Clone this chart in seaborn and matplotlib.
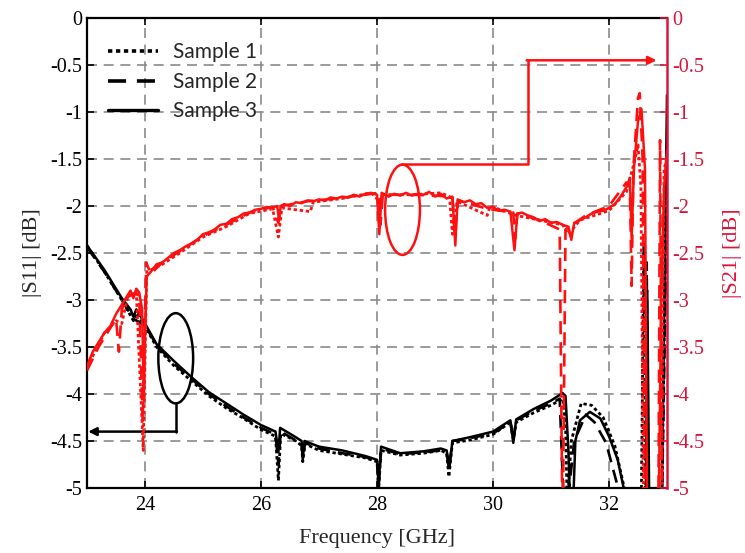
import matplotlib
matplotlib.use("Agg")
import matplotlib.pyplot as plt
import seaborn as sns
import pandas as pd
from matplotlib.patches import Ellipse
from matplotlib.lines import Line2D

# ---------------- data ----------------
# |S11| sample 3 (solid)
s11_3_f = [23.0, 23.3, 23.6, 23.75, 23.8, 23.85, 24.0, 24.2, 24.5, 24.8, 25.1, 25.4, 25.7, 26.0, 26.25,
           26.3, 26.33, 26.6, 26.7, 26.72, 26.75, 27.0, 27.4, 27.8, 28.0, 28.03, 28.07, 28.4, 28.8, 29.1,
           29.2, 29.25, 29.3, 29.6, 30.0, 30.3, 30.35, 30.4, 30.7, 31.0, 31.2, 31.25, 31.3, 31.33, 31.38,
           31.42, 31.5, 31.67, 31.85, 32.0, 32.15, 32.27, 32.6, 32.63, 32.66, 32.7, 32.9, 33.0]
s11_3_v = [-2.42, -2.68, -2.98, -3.10, -3.18, -3.10, -3.25, -3.47, -3.65, -3.82, -3.98, -4.10, -4.22, -4.33, -4.40,
           -4.62, -4.36, -4.46, -4.50, -4.70, -4.50, -4.56, -4.60, -4.66, -4.70, -4.95, -4.56, -4.63, -4.61, -4.58,
           -4.60, -4.78, -4.50, -4.46, -4.40, -4.28, -4.52, -4.27, -4.16, -4.07, -3.99, -4.02, -4.60, -5.20, -5.20,
           -4.50, -4.28, -4.19, -4.26, -4.45, -4.70, -5.05, -5.60, -5.60, -2.90, -5.60, -5.60, -0.82]

# |S11| sample 1 (dotted)
s11_1_f = [23.0, 23.3, 23.6, 23.8, 23.85, 24.0, 24.2, 24.5, 24.8, 25.1, 25.4, 25.7, 26.0, 26.25, 26.3,
           26.34, 26.6, 26.7, 26.72, 26.76, 27.0, 27.4, 27.8, 28.0, 28.03, 28.07, 28.4, 28.8, 29.1, 29.2,
           29.24, 29.3, 29.6, 30.0, 30.3, 30.35, 30.4, 30.7, 31.0, 31.2, 31.25, 31.28, 31.35, 31.52, 31.7,
           31.9, 32.1, 32.3, 32.55, 32.6, 32.64, 32.9, 33.0]
s11_1_v = [-2.42, -2.70, -3.00, -3.22, -3.14, -3.28, -3.50, -3.70, -3.86, -4.02, -4.15, -4.26, -4.38, -4.45, -4.92,
           -4.42, -4.50, -4.55, -4.72, -4.53, -4.60, -4.64, -4.68, -4.72, -5.00, -4.60, -4.65, -4.63, -4.60, -4.63,
           -4.88, -4.52, -4.49, -4.43, -4.30, -4.48, -4.30, -4.20, -4.12, -4.05, -4.30, -5.20, -4.50, -4.10, -4.12,
           -4.25, -4.55, -5.10, -5.60, -2.40, -5.60, -5.60, -1.50]

# |S11| sample 2 (dashed)
s11_2_f = [23.0, 23.3, 23.6, 23.8, 24.0, 24.2, 24.5, 24.8, 25.1, 25.4, 25.7, 26.0, 26.25, 26.3, 26.34,
           26.7, 26.72, 26.76, 27.0, 27.4, 27.8, 28.0, 28.03, 28.07, 28.4, 28.8, 29.1, 29.2, 29.24, 29.3,
           29.6, 30.0, 30.3, 30.35, 30.4, 30.7, 31.0, 31.15, 31.22, 31.28, 31.4, 31.6, 31.75, 31.95, 32.2,
           32.62, 32.65, 32.68, 32.9, 33.0]
s11_2_v = [-2.44, -2.70, -3.00, -3.20, -3.27, -3.48, -3.68, -3.84, -4.00, -4.13, -4.25, -4.36, -4.43, -4.75, -4.40,
           -4.53, -4.68, -4.52, -4.58, -4.63, -4.67, -4.72, -4.97, -4.58, -4.64, -4.62, -4.60, -4.62, -4.80, -4.50,
           -4.47, -4.42, -4.30, -4.50, -4.28, -4.18, -4.10, -4.05, -5.20, -5.20, -4.50, -4.22, -4.30, -4.52, -5.10,
           -5.60, -2.60, -5.60, -5.60, -2.00]

# |S21| sample 3 (solid)
s21_3_f = [23.0, 23.1, 23.2, 23.3, 23.4, 23.5, 23.6, 23.7, 23.75, 23.8, 23.85, 23.9, 23.95, 23.98, 24.0,
           24.03, 24.1, 24.2, 24.3, 24.4, 24.5, 24.6, 24.7, 24.8, 24.9, 25.0, 25.1, 25.2, 25.3, 25.4,
           25.5, 25.6, 25.7, 25.8, 25.9, 26.0, 26.1, 26.2, 26.28, 26.31, 26.34, 26.4, 26.5, 26.6, 26.7,
           26.8, 26.9, 27.0, 27.1, 27.2, 27.3, 27.4, 27.5, 27.6, 27.7, 27.8, 27.9, 28.0, 28.04, 28.08,
           28.2, 28.3, 28.4, 28.5, 28.6, 28.7, 28.8, 28.9, 29.0, 29.1, 29.2, 29.3, 29.35, 29.39, 29.5,
           29.6, 29.7, 29.8, 29.9, 30.0, 30.1, 30.2, 30.3, 30.37, 30.42, 30.5, 30.6, 30.7, 30.8, 30.9,
           31.0, 31.1, 31.2, 31.3, 31.35, 31.4, 31.5, 31.6, 31.7, 31.8, 31.9, 32.0, 32.1, 32.2, 32.3,
           32.36, 32.39, 32.43, 32.5, 32.56, 32.62, 32.66, 32.85, 32.9, 32.95, 33.0]
s21_3_v = [-3.70, -3.55, -3.45, -3.35, -3.28, -3.15, -3.05, -2.95, -2.90, -2.98, -2.88, -2.92, -3.10, -4.05, -3.40,
           -2.75, -2.70, -2.62, -2.60, -2.55, -2.50, -2.47, -2.43, -2.40, -2.36, -2.30, -2.28, -2.25, -2.20, -2.19,
           -2.14, -2.12, -2.08, -2.07, -2.04, -2.03, -2.01, -2.02, -2.00, -2.15, -2.00, -1.98, -2.00, -1.96, -1.97,
           -1.94, -1.95, -1.93, -1.94, -1.91, -1.92, -1.90, -1.91, -1.88, -1.90, -1.87, -1.86, -1.88, -2.30, -1.86,
           -1.90, -1.87, -1.89, -1.86, -1.89, -1.87, -1.88, -1.85, -1.90, -1.87, -1.92, -1.90, -2.42, -1.93, -1.96,
           -1.94, -1.98, -1.97, -2.02, -2.01, -2.05, -2.04, -2.06, -2.47, -2.08, -2.07, -2.10, -2.12, -2.16, -2.14,
           -2.18, -2.17, -2.20, -2.22, -2.36, -2.18, -2.15, -2.12, -2.08, -2.06, -2.05, -2.02, -1.98, -1.90, -1.80,
           -1.70, -2.35, -1.60, -1.10, -0.97, -1.60, -5.60, -5.60, -3.00, -1.80, -1.40]

# |S21| sample 1 (dotted)
s21_1_f = [23.0, 23.3, 23.5, 23.6, 23.7, 23.85, 23.97, 24.03, 24.3, 24.6, 25.0, 25.4, 25.8, 26.2, 26.3,
           26.36, 26.85, 26.9, 27.4, 27.9, 28.04, 28.1, 28.6, 29.1, 29.25, 29.3, 29.38, 29.9, 29.95, 30.4,
           30.8, 31.2, 31.3, 31.5, 32.0, 32.3, 32.45, 32.5, 32.55, 32.6, 32.9, 32.95, 33.0]
s21_1_v = [-3.72, -3.35, -3.22, -3.25, -2.97, -2.92, -4.60, -2.70, -2.62, -2.50, -2.33, -2.22, -2.08, -2.03, -2.33,
           -2.02, -2.06, -1.96, -1.92, -1.86, -1.95, -1.88, -1.88, -1.86, -1.90, -2.30, -1.95, -2.10, -2.00, -2.10,
           -2.15, -2.20, -2.30, -2.15, -2.05, -1.85, -1.50, -1.35, -1.80, -5.60, -5.60, -1.60, -1.50]

# |S21| sample 2 (dashed)
s21_2_f = [23.0, 23.2, 23.4, 23.5, 23.55, 23.6, 23.7, 23.8, 23.9, 23.96, 24.02, 24.1, 24.3, 24.6, 25.0,
           25.4, 25.8, 26.2, 26.3, 26.35, 26.8, 27.3, 27.8, 28.03, 28.06, 28.1, 28.6, 29.0, 29.3, 29.34,
           29.4, 29.9, 30.35, 30.38, 30.42, 30.8, 31.15, 31.2, 31.25, 31.6, 32.0, 32.3, 32.36, 32.39, 32.42,
           32.5, 32.53, 32.58, 32.62, 32.85, 32.88, 32.92, 33.0]
s21_2_v = [-3.75, -3.50, -3.30, -3.20, -3.55, -3.10, -2.97, -2.93, -2.95, -4.30, -2.60, -2.72, -2.60, -2.48, -2.32,
           -2.20, -2.07, -2.01, -2.18, -2.00, -1.95, -1.92, -1.88, -1.86, -2.20, -1.88, -1.88, -1.89, -1.90, -2.30,
           -1.94, -2.03, -2.07, -2.35, -2.08, -2.15, -2.25, -5.60, -2.25, -2.10, -2.00, -1.75, -1.80, -2.85, -1.60,
           -0.85, -0.80, -1.50, -5.60, -5.60, -1.30, -5.60, -5.60]

legend_labels = ["Sample 1", "Sample 2", "Sample 3"]
y_ticks = [0, -0.5, -1, -1.5, -2, -2.5, -3, -3.5, -4, -4.5, -5]
y_tick_labels = ["0", "-0.5", "-1", "-1.5", "-2", "-2.5", "-3", "-3.5", "-4", "-4.5", "-5"]
x_ticks = [24, 26, 28, 30, 32]
x_tick_labels = ["24", "26", "28", "30", "32"]

# ---------------- styling ----------------
sns.set_style("white")
SERIF = ["Liberation Serif", "DejaVu Serif"]
plt.rcParams["font.family"] = SERIF
plt.rcParams["axes.unicode_minus"] = False

RED_LINE = "#ff1010"
RED_AXIS = "#d8163c"
TICK_SIZE = 14.5

fig = plt.figure(figsize=(7.45, 5.53), dpi=100)
ax = fig.add_axes([87 / 745, 1 - 488 / 553, 580 / 745, 470 / 553])
ax2 = ax.twinx()

styles = {
    1: dict(linestyle=(0, (1.2, 1.0)), linewidth=2.0),
    2: dict(linestyle=(0, (5, 3)), linewidth=1.9),
    3: dict(linestyle="-", linewidth=1.8),
}

s11 = {1: (s11_1_f, s11_1_v), 2: (s11_2_f, s11_2_v), 3: (s11_3_f, s11_3_v)}
s21 = {1: (s21_1_f, s21_1_v), 2: (s21_2_f, s21_2_v), 3: (s21_3_f, s21_3_v)}

for k in (1, 2, 3):
    f, v = s11[k]
    df = pd.DataFrame({"freq": f, "val": v})
    sns.lineplot(data=df, x="freq", y="val", ax=ax, color="black", estimator=None,
                 sort=False, legend=False, **styles[k])
for k in (1, 2, 3):
    f, v = s21[k]
    df = pd.DataFrame({"freq": f, "val": v})
    sns.lineplot(data=df, x="freq", y="val", ax=ax2, color=RED_LINE, estimator=None,
                 sort=False, legend=False, **styles[k])

for a in (ax, ax2):
    a.set_xlim(23, 33)
    a.set_ylim(-5, 0)

# ticks and grid
ax.set_xticks(x_ticks)
ax.set_xticklabels(x_tick_labels, fontfamily=SERIF, fontsize=TICK_SIZE)
ax.set_yticks(y_ticks)
ax.set_yticklabels(y_tick_labels, fontfamily=SERIF, fontsize=TICK_SIZE)
ax.grid(True, color="#8a8a8a", linestyle=(0, (6, 4)), linewidth=1.2)
ax.set_axisbelow(True)

ax.tick_params(axis="both", direction="in", length=5, width=1.2,
               top=True, bottom=True, left=True, right=False, colors="black")
ax.tick_params(axis="x", pad=6)
ax2.set_yticks(y_ticks)
ax2.set_yticklabels(y_tick_labels, fontfamily=SERIF, fontsize=TICK_SIZE, color=RED_AXIS)
ax2.tick_params(axis="y", direction="in", length=5, width=1.2, colors=RED_AXIS)
ax2.grid(False)

ax.set_xlabel("Frequency [GHz]", fontsize=16, labelpad=10, fontfamily=SERIF)
ax.set_ylabel("|S11| [dB]", fontsize=16, labelpad=6, fontfamily=SERIF)
ax2.set_ylabel("|S21| [dB]", fontsize=16, color=RED_AXIS, labelpad=14, fontfamily=SERIF)

for s in ("left", "top", "bottom"):
    ax.spines[s].set_color("black")
    ax.spines[s].set_linewidth(1.6)
    ax2.spines[s].set_visible(False)
ax.spines["right"].set_visible(False)
ax2.spines["right"].set_color(RED_AXIS)
ax2.spines["right"].set_linewidth(1.8)

# annotations: ellipses and arrows
ax.add_patch(Ellipse((24.53, -3.62), 0.6, 0.96, fill=False, edgecolor="black", linewidth=1.8, zorder=5))
ax.plot([24.53, 24.53], [-4.10, -4.40], color="black", linewidth=1.8, zorder=5)
ax.annotate("", xy=(23.02, -4.40), xytext=(24.55, -4.40),
            arrowprops=dict(arrowstyle="-|>", color="black", lw=1.8, mutation_scale=12,
                            shrinkA=0, shrinkB=0), zorder=5)

ax2.add_patch(Ellipse((28.44, -2.04), 0.6, 0.96, fill=False, edgecolor=RED_LINE, linewidth=1.8, zorder=5))
ax2.plot([28.41, 30.6, 30.6], [-1.55, -1.55, -0.45], color=RED_LINE, linewidth=1.8, zorder=5)
ax2.annotate("", xy=(32.82, -0.45), xytext=(30.58, -0.45),
             arrowprops=dict(arrowstyle="-|>", color=RED_LINE, lw=1.8, mutation_scale=12,
                             shrinkA=0, shrinkB=0), zorder=5)

# legend
handles = [Line2D([0], [0], color="black", **styles[k]) for k in (1, 2, 3)]
handles[0].set_linewidth(2.6)
handles[1].set_linewidth(2.6)
handles[2].set_linewidth(2.4)
leg = ax2.legend(handles, legend_labels, loc="upper left", bbox_to_anchor=(0.036, 0.948),
                 frameon=False, borderpad=0, borderaxespad=0,
                 handlelength=2.4, handletextpad=0.72, labelspacing=0.45,
                 prop={"family": ["Lato", "DejaVu Sans"], "size": 15})

fig.savefig("out.png", dpi=100)
